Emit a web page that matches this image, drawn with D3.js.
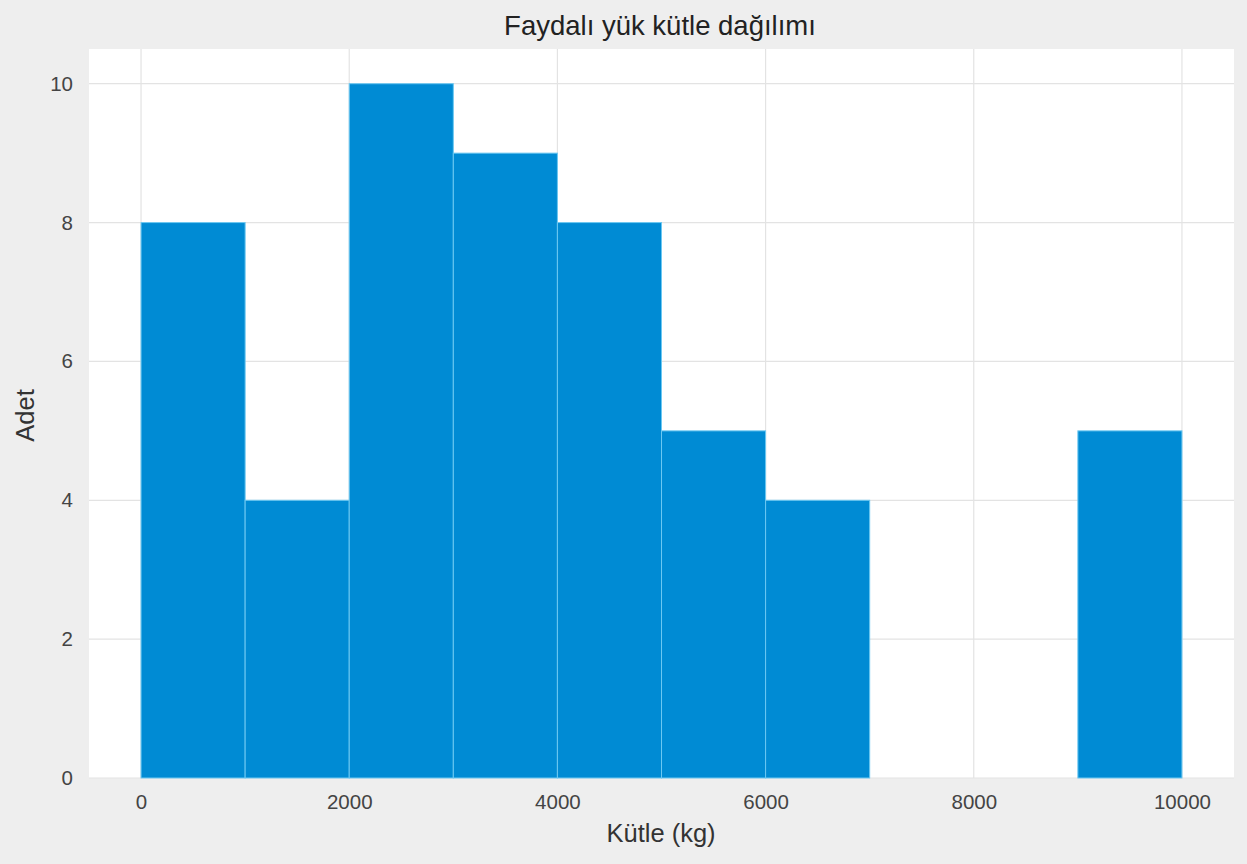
<!DOCTYPE html>
<html>
<head>
<meta charset="utf-8">
<script src="https://cdn.jsdelivr.net/npm/d3@7"></script>
<style>
  html, body { margin: 0; padding: 0; background: #eeeeee; }
  svg { display: block; }
</style>
</head>
<body>
<svg id="chart" width="1247" height="864"></svg>
<script>
// Data
const binStarts = [0, 1000, 2000, 3000, 4000, 5000, 6000, 7000, 8000, 9000];
const binWidth = 1000;
const counts = [8, 4, 10, 9, 8, 5, 4, 0, 0, 5];
const xTicks = [0, 2000, 4000, 6000, 8000, 10000];
const yTicks = [0, 2, 4, 6, 8, 10];
const title = "Faydalı yük kütle dağılımı";
const xLabel = "Kütle (kg)";
const yLabel = "Adet";

const svg = d3.select("#chart");
const W = 1247, H = 864;
const plot = { left: 89, right: 1234, top: 49, bottom: 778 };
const font = "'Liberation Sans', Arial, Helvetica, sans-serif";

svg.append("rect").attr("width", W).attr("height", H).attr("fill", "#eeeeee");

const x = d3.scaleLinear().domain([-500, 10500]).range([plot.left, plot.right]);
const y = d3.scaleLinear().domain([0, 10.5]).range([plot.bottom, plot.top]);

svg.append("rect")
  .attr("x", plot.left).attr("y", plot.top)
  .attr("width", plot.right - plot.left).attr("height", plot.bottom - plot.top)
  .attr("fill", "#ffffff");

// grid
const grid = svg.append("g");
grid.selectAll("line.vx").data(xTicks).enter().append("line")
  .attr("x1", d => x(d)).attr("x2", d => x(d))
  .attr("y1", plot.top).attr("y2", plot.bottom)
  .attr("stroke", "#e3e3e3").attr("stroke-width", 1.2);
grid.selectAll("line.hy").data(yTicks).enter().append("line")
  .attr("y1", d => y(d)).attr("y2", d => y(d))
  .attr("x1", plot.left).attr("x2", plot.right)
  .attr("stroke", "#e3e3e3").attr("stroke-width", 1.2);

// bars
const data = binStarts.map((s, i) => ({ x0: s, x1: s + binWidth, c: counts[i] }));
svg.append("g").selectAll("rect").data(data.filter(d => d.c > 0)).enter().append("rect")
  .attr("x", d => x(d.x0))
  .attr("y", d => y(d.c))
  .attr("width", d => x(d.x1) - x(d.x0))
  .attr("height", d => y(0) - y(d.c))
  .attr("fill", "#008bd4")
  .attr("stroke", "#6cc8f2")
  .attr("stroke-width", 1);

// axes (labels only, no lines)
const xAxis = d3.axisBottom(x).tickValues(xTicks).tickSize(0).tickPadding(16).tickFormat(d3.format("d"));
const gx = svg.append("g").attr("transform", `translate(0,${plot.bottom})`).call(xAxis);
gx.select(".domain").remove();
gx.selectAll("text").attr("font-family", font).attr("font-size", 20.5).attr("fill", "#444");

const yAxis = d3.axisLeft(y).tickValues(yTicks).tickSize(0).tickPadding(16).tickFormat(d3.format("d"));
const gy = svg.append("g").attr("transform", `translate(${plot.left},0)`).call(yAxis);
gy.select(".domain").remove();
gy.selectAll("text").attr("font-family", font).attr("font-size", 20.5).attr("fill", "#444");

// title
svg.append("text")
  .attr("x", 660).attr("y", 35)
  .attr("text-anchor", "middle")
  .attr("font-family", font).attr("font-size", 27.5).attr("fill", "#222")
  .text(title);

// x label
svg.append("text")
  .attr("x", 661).attr("y", 842)
  .attr("text-anchor", "middle")
  .attr("font-family", font).attr("font-size", 25.5).attr("fill", "#333")
  .text(xLabel);

// y label
svg.append("text")
  .attr("transform", `translate(34,${(plot.top + plot.bottom) / 2 + 2}) rotate(-90)`)
  .attr("text-anchor", "middle")
  .attr("font-family", font).attr("font-size", 25.5).attr("fill", "#333")
  .text(yLabel);
</script>
</body>
</html>
